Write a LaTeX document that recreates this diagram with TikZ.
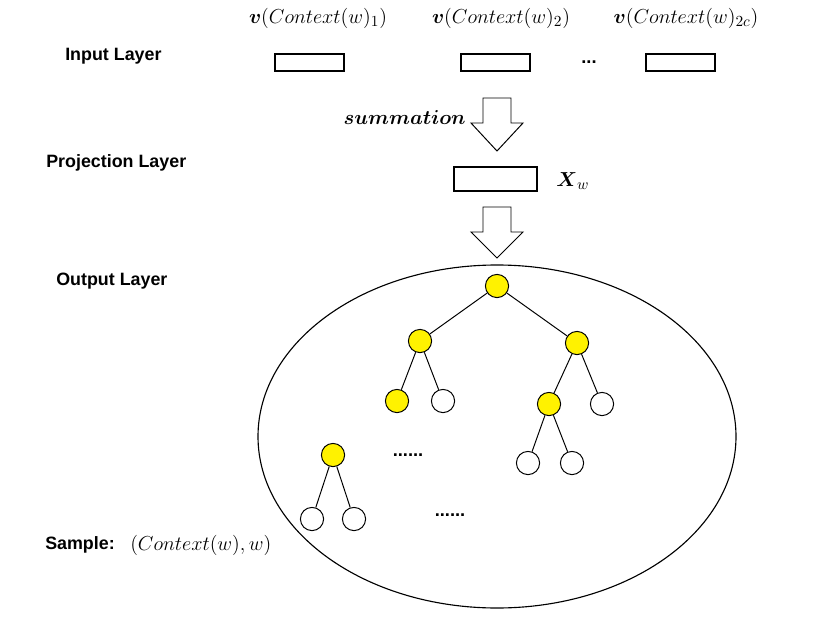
\documentclass[tikz,border=0pt]{standalone}
\usepackage{amsmath}
\usepackage{amssymb}
\usepackage{fontspec}
\usepackage{tikz}
\newfontfamily\layerfont{Liberation Sans}

\tikzset{
    layer/.style={font=\layerfont\bfseries\fontsize{12.7}{15}\selectfont, anchor=west, inner sep=0pt},
    mathlabel/.style={font=\fontsize{15.5}{18}\selectfont, inner sep=0pt},
    dotsstyle/.style={font=\layerfont\bfseries\fontsize{13}{15}\selectfont, inner sep=0pt},
    vecbox/.style={draw, line width=1.8pt, minimum width=49pt, minimum height=12pt, inner sep=0pt},
    pathnode/.style={circle, draw, line width=0.7pt, fill=yellow, minimum size=16.5pt, inner sep=0pt},
    leafnode/.style={circle, draw, line width=0.7pt, fill=white, minimum size=16.5pt, inner sep=0pt},
    bigarrow/.style={draw, line width=0.7pt, fill=white},
}

\begin{document}
\begin{tikzpicture}[x=0.025cm, y=-0.025cm]
    \useasboundingbox (0,0) rectangle (817,618);

    % layer names
    \node[layer] at (65,56) (inlayer) {Input Layer};
    \node[layer] at (46,163) (projlayer) {Projection Layer};
    \node[layer] at (56,281) (outlayer) {Output Layer};
    \node[layer] at (45,545) (sample) {Sample:};
    \node[mathlabel, anchor=west] at (130,545) (samplemath) {$(Context(w),w)$};

    % input layer
    \node[mathlabel] at (318,18) (lab1) {$\boldsymbol{v}(Context(w)_1)$};
    \node[mathlabel] at (501,18) (lab2) {$\boldsymbol{v}(Context(w)_2)$};
    \node[mathlabel] at (686,18) (lab3) {$\boldsymbol{v}(Context(w)_{2c})$};
    \node[vecbox] at (309.5,62.5) (in1) {};
    \node[vecbox] at (495.5,62.5) (in2) {};
    \node[vecbox] at (680.5,62.5) (in3) {};
    \node[dotsstyle] at (589,62) (indots) {...};

    % summation arrow
    \draw[bigarrow] (483,98) -- (511,98) -- (511,123) -- (523,123) -- (497,151)
        -- (471,123) -- (483,123) -- cycle;
    \node[mathlabel, anchor=east] at (466,117) (sumlab) {$\boldsymbol{summation}$};

    % projection layer
    \node[vecbox, minimum width=59pt, minimum height=17pt] at (495.5,179) (proj) {};
    \node[mathlabel, anchor=west] at (556,181) (xw) {$\boldsymbol{X}_w$};

    % arrow to output layer
    \draw[bigarrow] (483,207) -- (511,207) -- (511,232) -- (523,232) -- (497,258)
        -- (471,232) -- (483,232) -- cycle;

    % output layer
    \draw[line width=0.8pt] (497,436.5) ellipse (239 and 171.5);

    \node[pathnode] at (497,286) (root) {};
    \node[pathnode] at (420,341) (l) {};
    \node[pathnode] at (577,343) (r) {};
    \node[pathnode] at (397,401) (ll) {};
    \node[leafnode] at (443,401) (lr) {};
    \node[pathnode] at (549,404) (rl) {};
    \node[leafnode] at (602,404) (rr) {};
    \node[leafnode] at (528,463) (rll) {};
    \node[leafnode] at (572,463) (rlr) {};
    \node[pathnode] at (333,455) (s) {};
    \node[leafnode] at (312,519) (sl) {};
    \node[leafnode] at (354,519) (sr) {};

    \draw[line width=0.7pt] (root) -- (l);
    \draw[line width=0.7pt] (root) -- (r);
    \draw[line width=0.7pt] (l) -- (ll);
    \draw[line width=0.7pt] (l) -- (lr);
    \draw[line width=0.7pt] (r) -- (rl);
    \draw[line width=0.7pt] (r) -- (rr);
    \draw[line width=0.7pt] (rl) -- (rll);
    \draw[line width=0.7pt] (rl) -- (rlr);
    \draw[line width=0.7pt] (s) -- (sl);
    \draw[line width=0.7pt] (s) -- (sr);

    \node[dotsstyle] at (408,455) (dots1) {......};
    \node[dotsstyle] at (450,515) (dots2) {......};
\end{tikzpicture}
\end{document}
